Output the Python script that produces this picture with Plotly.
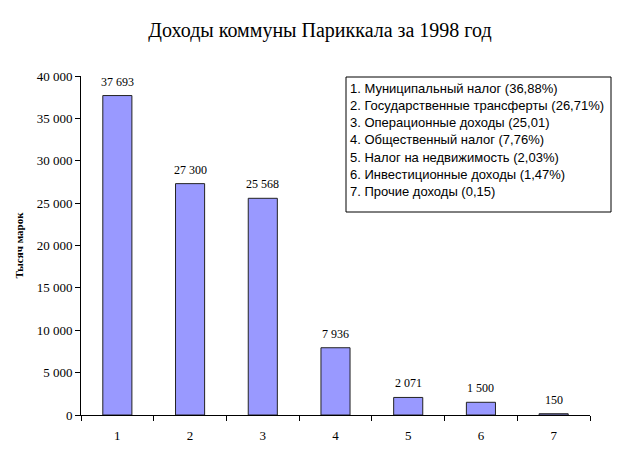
import plotly.graph_objects as go

categories = ["1", "2", "3", "4", "5", "6", "7"]
values = [37693, 27300, 25568, 7936, 2071, 1500, 150]
value_labels = ["37 693", "27 300", "25 568", "7 936", "2 071", "1 500", "150"]
legend_lines = [
    "1. Муниципальный налог (36,88%)",
    "2. Государственные трансферты (26,71%)",
    "3. Операционные доходы (25,01)",
    "4. Общественный налог (7,76%)",
    "5. Налог на недвижимость (2,03%)",
    "6. Инвестиционные доходы (1,47%)",
    "7. Прочие доходы (0,15)",
]
y_tickvals = [0, 5000, 10000, 15000, 20000, 25000, 30000, 35000, 40000]

W, H = 640, 459
L, R, T, B = 81, 590, 76, 415

def px(x):
    return (x - L) / (R - L)

def py(y):
    return (B - y) / (B - T)

fig = go.Figure()
fig.add_trace(go.Bar(
    x=categories, y=values,
    marker=dict(color="#9999FF", line=dict(color="#222222", width=1)),
    cliponaxis=False,
))

shapes = [dict(type="rect", xref="paper", yref="paper",
               x0=px(346), x1=px(611), y0=py(212), y1=py(77),
               line=dict(color="black", width=1), fillcolor="white", layer="above")]
annotations = []
for i, (v, lab) in enumerate(zip(values, value_labels)):
    annotations.append(dict(
        x=i, y=v, xref="x", yref="y", text=lab, showarrow=False,
        yanchor="bottom", yshift=5,
        font=dict(family="Liberation Serif", size=12, color="black"),
    ))
for i, line in enumerate(legend_lines):
    annotations.append(dict(
        xref="paper", yref="paper", x=px(348), y=py(88 + i * 17.3),
        xanchor="left", yanchor="middle", text=line, showarrow=False,
        font=dict(family="Liberation Sans", size=13, color="black"),
    ))

fig.update_layout(
    width=W, height=H,
    margin=dict(l=L, r=W - R, t=T, b=H - B),
    paper_bgcolor="white", plot_bgcolor="white",
    separators=", ",
    bargap=0.6,
    showlegend=False,
    title=dict(text="Доходы коммуны Париккала за 1998 год", x=0.5, xanchor="center",
               y=1 - 30 / H, yanchor="middle", yref="container",
               font=dict(family="Liberation Serif", size=20, color="black")),
    xaxis=dict(type="category", tickson="boundaries", ticks="outside", ticklen=5,
               tickcolor="black", showline=True, linecolor="black", linewidth=1,
               showgrid=False, ticklabelstandoff=8, range=[-0.5, 6.5],
               tickfont=dict(family="Liberation Serif", size=13, color="black")),
    yaxis=dict(range=[0, 40000], tickvals=y_tickvals, tickformat=",d", ticks="outside",
               ticklen=5, tickcolor="black", showline=True, linecolor="black",
               linewidth=1, showgrid=False, zeroline=False,
               tickfont=dict(family="Liberation Serif", size=13, color="black"),
               title=dict(text="<b>Тысяч марок</b>", standoff=10,
                          font=dict(family="Liberation Serif", size=11, color="black"))),
    shapes=shapes, annotations=annotations,
)

fig.write_html("out.html")
